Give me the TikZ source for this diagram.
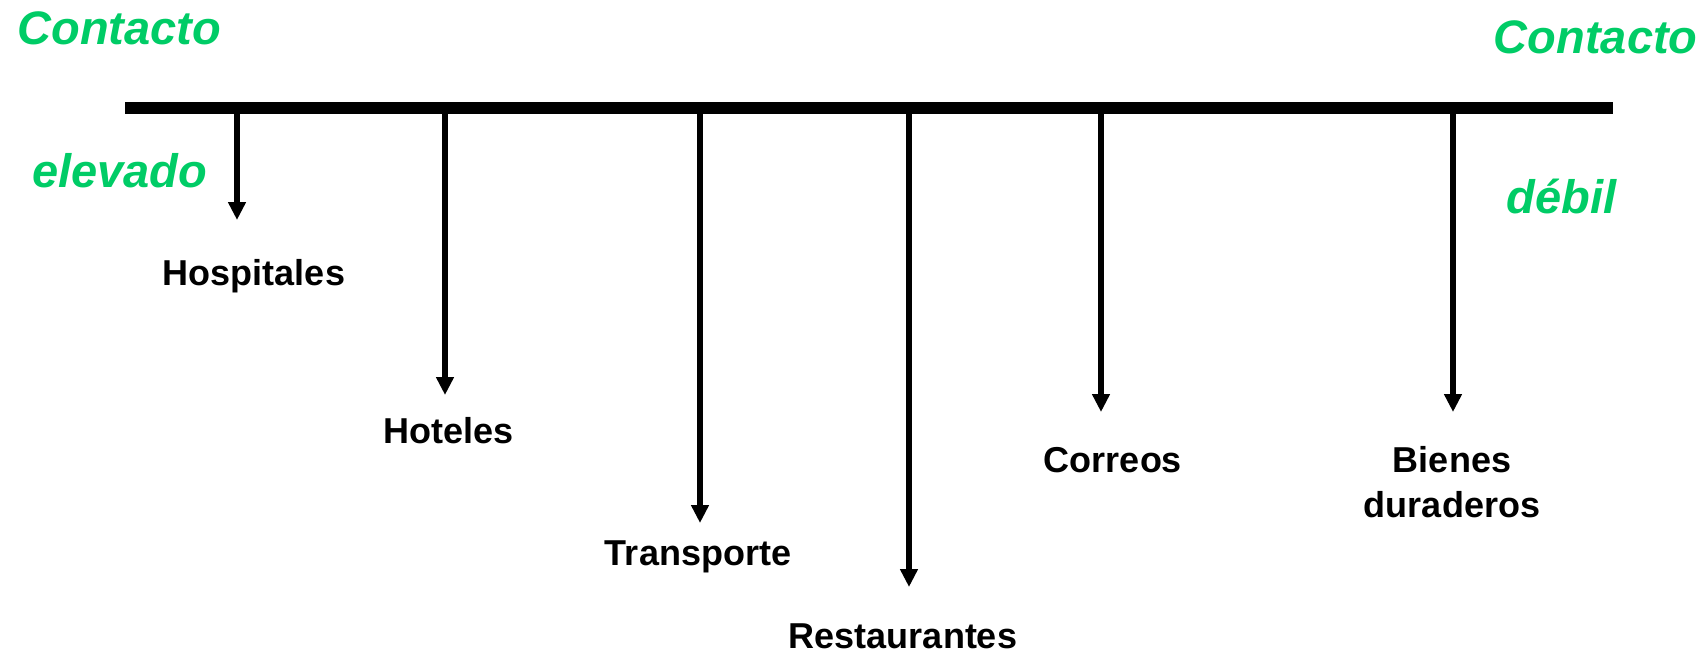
\documentclass[tikz,border=0pt]{standalone}
\usepackage{fontspec}
\setmainfont{Liberation Sans}
\usetikzlibrary{arrows.meta}
\definecolor{contactgreen}{RGB}{0,204,102}
\tikzset{
  greenlbl/.style={text=contactgreen, inner sep=0pt,
    font=\fontsize{23.5}{28}\selectfont\bfseries\itshape},
  servlbl/.style={inner sep=0pt, align=center,
    font=\fontsize{18}{22.5}\selectfont\bfseries},
  arr/.style={line width=3pt, -{Triangle[width=8.5pt,length=9pt]}},
}
\begin{document}
\begin{tikzpicture}[x=0.5pt,y=-0.5pt]
\useasboundingbox (0,0) rectangle (1708,655);
% the scale of contact
\coordinate (barl) at (125,108);
\coordinate (barr) at (1613,108);
\draw[line width=6pt] (barl) -- (barr);
\node[greenlbl, anchor=base west] (contactl) at (17,44) {Contacto};
\node[greenlbl, anchor=base west] (elevado) at (32,187) {elevado};
\node[greenlbl, anchor=base east] (contactr) at (1698,53) {Contacto};
\node[greenlbl, anchor=base east] (debil) at (1617,213) {débil};
% services, hanging from the bar
\coordinate (hospb) at (237,108);  \coordinate (hospt) at (237,220);
\coordinate (hotb) at (445,108);   \coordinate (hott) at (445,395);
\coordinate (transb) at (700,108); \coordinate (transt) at (700,523);
\coordinate (restb) at (909,108);  \coordinate (restt) at (909,587);
\coordinate (corrb) at (1101,108); \coordinate (corrt) at (1101,412);
\coordinate (bienb) at (1453,108); \coordinate (bient) at (1453,412);
\draw[arr] (hospb) -- (hospt);
\draw[arr] (hotb) -- (hott);
\draw[arr] (transb) -- (transt);
\draw[arr] (restb) -- (restt);
\draw[arr] (corrb) -- (corrt);
\draw[arr] (bienb) -- (bient);
\node[servlbl, anchor=base] (hosp) at (254,285) {Hospitales};
\node[servlbl, anchor=base] (hot) at (449,443) {Hoteles};
\node[servlbl, anchor=base] (trans) at (698,565) {Transporte};
\node[servlbl, anchor=base] (rest) at (903,648) {Restaurantes};
\node[servlbl, anchor=base] (corr) at (1113,472) {Correos};
\node[servlbl, anchor=base] (bien) at (1452,517) {Bienes\\duraderos};% base = last line
\end{tikzpicture}
\end{document}
